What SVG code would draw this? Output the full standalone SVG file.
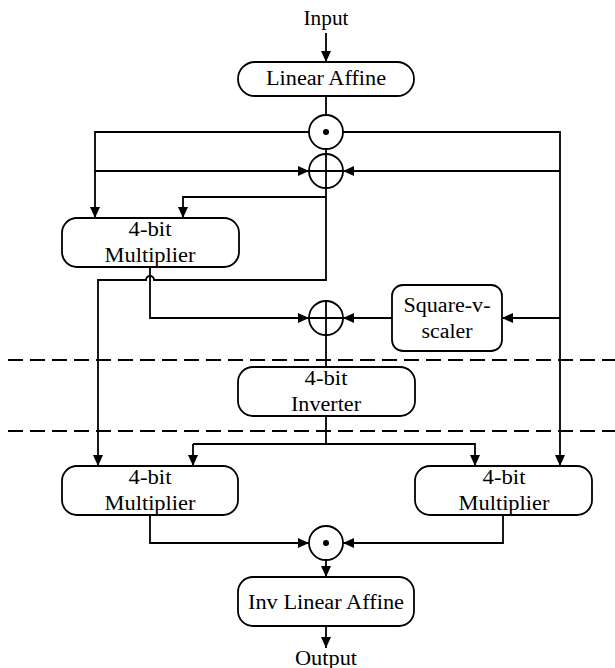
<svg xmlns="http://www.w3.org/2000/svg" width="615" height="668" viewBox="0 0 615 668" font-family="'Liberation Serif', 'DejaVu Serif', serif">
<defs>
<marker id="arr" markerUnits="userSpaceOnUse" markerWidth="12" markerHeight="10" refX="11" refY="5" orient="auto">
<path d="M0,0 L11,5 L0,10 Z" fill="#000"/>
</marker>
<style>
.box{fill:#fff;stroke:#000;stroke-width:1.8}
.ln{fill:none;stroke:#000;stroke-width:1.8}
.ar{fill:none;stroke:#000;stroke-width:1.8;marker-end:url(#arr)}
.dash{fill:none;stroke:#000;stroke-width:2;stroke-dasharray:15 7}
.op{fill:#fff;stroke:#000;stroke-width:1.8}
text{font-family:'Liberation Serif','DejaVu Serif',serif;font-size:20px;fill:#000;text-anchor:middle}
</style>
</defs>
<rect width="615" height="668" fill="#fff"/>
<g id="dashed">
<line class="dash" x1="8" y1="360" x2="615" y2="360"/>
<line class="dash" x1="8" y1="431" x2="615" y2="431"/>
</g>
<g id="connectors">
<path class="ar" d="M326,33 V62"/>
<path class="ln" d="M326,96 V155"/>
<path class="ar" d="M309,132 H95 V218"/>
<path class="ar" d="M343,132 H560 V466"/>
<path class="ar" d="M95,171 H309"/>
<path class="ar" d="M560,171 H343"/>
<path class="ar" d="M326,197 H183 V218"/>
<path class="ar" d="M326,188 V280 H154 A4,4 0 0 0 146,280 H98 V466"/>
<path class="ar" d="M150,267 V318 H309"/>
<path class="ar" d="M560,318 H502"/>
<path class="ar" d="M392,318 H343"/>
<path class="ln" d="M326,335 V367"/>
<path class="ln" d="M326,416 V444 H193"/>
<path class="ar" d="M193,444 V466"/>
<path class="ar" d="M326,444 H475 V466"/>
<path class="ar" d="M150,515 V543 H309"/>
<path class="ar" d="M503,515 V543 H343"/>
<path class="ar" d="M326,560 V577"/>
<path class="ar" d="M326,626 V648"/>
</g>
<g id="input"><text x="326" y="25" textLength="45" lengthAdjust="spacingAndGlyphs">Input</text></g>
<g id="linear-affine">
<rect class="box" x="238" y="62" width="176" height="34" rx="17"/>
<text x="326" y="85" textLength="120" lengthAdjust="spacingAndGlyphs">Linear Affine</text>
</g>
<g id="dot1">
<circle class="op" cx="326" cy="132" r="17"/>
<circle cx="326" cy="132" r="3" fill="#000"/>
</g>
<g id="plus1">
<circle class="op" cx="326" cy="171" r="17"/>
<path class="ln" d="M309,171 H343 M326,154 V188"/>
</g>
<g id="mult-top">
<rect class="box" x="62" y="218" width="177" height="49" rx="15"/>
<text x="150" y="236" textLength="43" lengthAdjust="spacingAndGlyphs">4-bit</text>
<text x="150" y="262" textLength="91" lengthAdjust="spacingAndGlyphs">Multiplier</text>
</g>
<g id="plus2">
<circle class="op" cx="326" cy="318" r="17"/>
<path class="ln" d="M309,318 H343 M326,301 V335"/>
</g>
<g id="square-scaler">
<rect class="box" x="392" y="285" width="110" height="66" rx="11"/>
<text x="447" y="312" textLength="87" lengthAdjust="spacingAndGlyphs">Square-v-</text>
<text x="447" y="338" textLength="51" lengthAdjust="spacingAndGlyphs">scaler</text>
</g>
<g id="inverter">
<rect class="box" x="238" y="367" width="177" height="49" rx="15"/>
<text x="326" y="385" textLength="43" lengthAdjust="spacingAndGlyphs">4-bit</text>
<text x="326" y="411" textLength="70" lengthAdjust="spacingAndGlyphs">Inverter</text>
</g>
<g id="mult-left">
<rect class="box" x="62" y="466" width="176" height="49" rx="15"/>
<text x="150" y="484" textLength="43" lengthAdjust="spacingAndGlyphs">4-bit</text>
<text x="150" y="510" textLength="91" lengthAdjust="spacingAndGlyphs">Multiplier</text>
</g>
<g id="mult-right">
<rect class="box" x="415" y="466" width="177" height="49" rx="15"/>
<text x="504" y="484" textLength="43" lengthAdjust="spacingAndGlyphs">4-bit</text>
<text x="504" y="510" textLength="91" lengthAdjust="spacingAndGlyphs">Multiplier</text>
</g>
<g id="dot2">
<circle class="op" cx="326" cy="543" r="17"/>
<circle cx="326" cy="543" r="3" fill="#000"/>
</g>
<g id="inv-linear-affine">
<rect class="box" x="238" y="577" width="176" height="49" rx="15"/>
<text x="326" y="609" textLength="156" lengthAdjust="spacingAndGlyphs">Inv Linear Affine</text>
</g>
<g id="output"><text x="326" y="665" textLength="62" lengthAdjust="spacingAndGlyphs">Output</text></g>
</svg>
